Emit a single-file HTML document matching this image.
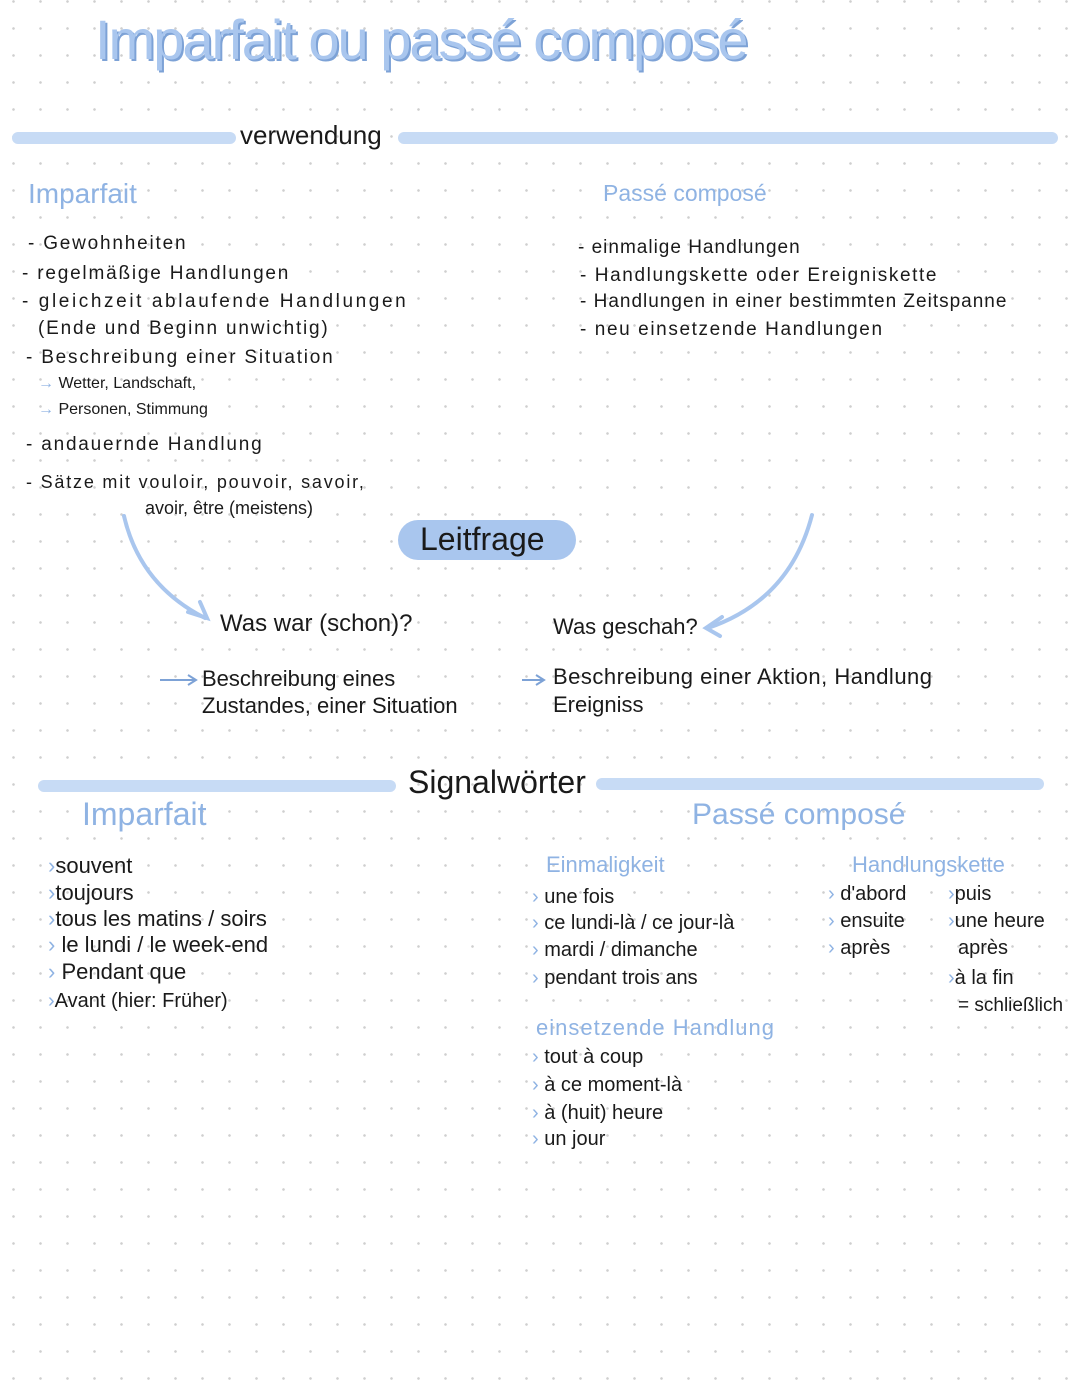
<!DOCTYPE html>
<html><head><meta charset="utf-8"><style>
body{margin:0;width:1080px;height:1394px;position:relative;overflow:hidden;font-family:"Liberation Sans",sans-serif;color:#1a1a1a;
background-color:#fff;background-image:radial-gradient(circle,#cfcfcf 1.1px,transparent 1.5px);background-size:27px 27px;background-position:0px -12px;}
.t{position:absolute;white-space:nowrap;font-size:19px;line-height:1}
.b{color:#8fb3e3}
.bar{position:absolute;height:12px;border-radius:6px;background:#c7dbf5}
.w{letter-spacing:1.8px}
.r{letter-spacing:1px}
</style></head><body>
<div class="t" style="left:95px;top:12px;font-size:56px;color:#a9c6ee;letter-spacing:-2px;text-shadow:2px 2px 0 #7da2d6">Imparfait ou passé composé</div>
<div class="bar" style="left:12px;top:132px;width:224px"></div>
<div class="bar" style="left:398px;top:132px;width:660px"></div>
<div class="t" style="left:240px;top:122px;font-size:26px">verwendung</div>
<div class="t b" style="left:28px;top:180px;font-size:28px">Imparfait</div>
<div class="t b" style="left:603px;top:182px;font-size:23px">Passé composé</div>
<div class="t w" style="left:28px;top:234px">- Gewohnheiten</div>
<div class="t w" style="left:22px;top:264px">- regelmäßige Handlungen</div>
<div class="t w" style="left:22px;top:292px;letter-spacing:2.6px">- gleichzeit ablaufende Handlungen</div>
<div class="t w" style="left:38px;top:319px">(Ende und Beginn unwichtig)</div>
<div class="t w" style="left:26px;top:348px">- Beschreibung einer Situation</div>
<div class="t" style="left:38px;top:376px;font-size:16px"><span class="b">→</span> Wetter, Landschaft,</div>
<div class="t" style="left:38px;top:402px;font-size:16px"><span class="b">→</span> Personen, Stimmung</div>
<div class="t w" style="left:26px;top:435px">- andauernde Handlung</div>
<div class="t w" style="left:26px;top:473px;font-size:18px">- Sätze mit vouloir, pouvoir, savoir,</div>
<div class="t" style="left:145px;top:499px;font-size:18px">avoir, être (meistens)</div>
<div class="t r" style="left:578px;top:238px">- einmalige Handlungen</div>
<div class="t r" style="left:580px;top:266px;letter-spacing:1.6px">- Handlungskette oder Ereigniskette</div>
<div class="t r" style="left:580px;top:292px">- Handlungen in einer bestimmten Zeitspanne</div>
<div class="t r" style="left:580px;top:320px;letter-spacing:1.6px">- neu einsetzende Handlungen</div>
<div style="position:absolute;left:398px;top:520px;width:178px;height:40px;border-radius:20px;background:#a9c6ee"></div>
<div class="t" style="left:420px;top:523px;font-size:32px">Leitfrage</div>
<svg style="position:absolute;left:0;top:0" width="1080" height="800">
<g fill="none" stroke="#a9c6ee" stroke-width="4" stroke-linecap="round">
<path d="M124 516 Q140 585 205 618"/><path d="M188 612 L207 618 L200 602"/>
<path d="M812 515 Q790 600 708 628"/><path d="M722 617 L706 628 L720 636"/>
</g>
<g fill="none" stroke="#7da2d6" stroke-width="2"><path d="M160 680 L195 680"/><path d="M188 675 L196 680 L188 685"/>
<path d="M522 680 L543 680"/><path d="M536 675 L544 680 L536 685"/></g>
</svg>
<div class="t" style="left:220px;top:612px;font-size:24px">Was war (schon)?</div>
<div class="t" style="left:553px;top:616px;font-size:22px">Was geschah?</div>
<div class="t" style="left:202px;top:668px;font-size:22px">Beschreibung eines</div>
<div class="t" style="left:202px;top:695px;font-size:22px">Zustandes, einer Situation</div>
<div class="t" style="left:553px;top:666px;font-size:22px;letter-spacing:0.5px">Beschreibung einer Aktion, Handlung</div>
<div class="t" style="left:553px;top:694px;font-size:22px">Ereigniss</div>
<div class="bar" style="left:38px;top:780px;width:358px"></div>
<div class="bar" style="left:596px;top:778px;width:448px"></div>
<div class="t" style="left:408px;top:766px;font-size:32px">Signalwörter</div>
<div class="t b" style="left:82px;top:798px;font-size:32px">Imparfait</div>
<div class="t b" style="left:692px;top:800px;font-size:30px">Passé composé</div>
<div class="t" style="left:48px;top:855px;font-size:22px"><span class="b">›</span>souvent</div>
<div class="t" style="left:48px;top:882px;font-size:22px"><span class="b">›</span>toujours</div>
<div class="t" style="left:48px;top:908px;font-size:22px"><span class="b">›</span>tous les matins / soirs</div>
<div class="t" style="left:48px;top:934px;font-size:22px"><span class="b">›</span> le lundi / le week-end</div>
<div class="t" style="left:48px;top:961px;font-size:22px"><span class="b">›</span> Pendant que</div>
<div class="t" style="left:48px;top:991px;font-size:20px"><span class="b">›</span>Avant (hier: Früher)</div>
<div class="t b" style="left:546px;top:854px;font-size:22px">Einmaligkeit</div>
<div class="t" style="left:532px;top:887px;font-size:20px"><span class="b">›</span> une fois</div>
<div class="t" style="left:532px;top:913px;font-size:20px"><span class="b">›</span> ce lundi-là / ce jour-là</div>
<div class="t" style="left:532px;top:940px;font-size:20px"><span class="b">›</span> mardi / dimanche</div>
<div class="t" style="left:532px;top:968px;font-size:20px"><span class="b">›</span> pendant trois ans</div>
<div class="t b" style="left:536px;top:1017px;font-size:22px;letter-spacing:1px">einsetzende Handlung</div>
<div class="t" style="left:532px;top:1047px;font-size:20px"><span class="b">›</span> tout à coup</div>
<div class="t" style="left:532px;top:1075px;font-size:20px"><span class="b">›</span> à ce moment-là</div>
<div class="t" style="left:532px;top:1103px;font-size:20px"><span class="b">›</span> à (huit) heure</div>
<div class="t" style="left:532px;top:1129px;font-size:20px"><span class="b">›</span> un jour</div>
<div class="t b" style="left:852px;top:854px;font-size:22px">Handlungskette</div>
<div class="t" style="left:828px;top:884px;font-size:20px"><span class="b">›</span> d'abord</div>
<div class="t" style="left:828px;top:911px;font-size:20px"><span class="b">›</span> ensuite</div>
<div class="t" style="left:828px;top:938px;font-size:20px"><span class="b">›</span> après</div>
<div class="t" style="left:948px;top:884px;font-size:20px"><span class="b">›</span>puis</div>
<div class="t" style="left:948px;top:911px;font-size:20px"><span class="b">›</span>une heure</div>
<div class="t" style="left:958px;top:938px;font-size:20px">après</div>
<div class="t" style="left:948px;top:968px;font-size:20px"><span class="b">›</span>à la fin</div>
<div class="t" style="left:958px;top:996px;font-size:19px">= schließlich</div>
</body></html>
